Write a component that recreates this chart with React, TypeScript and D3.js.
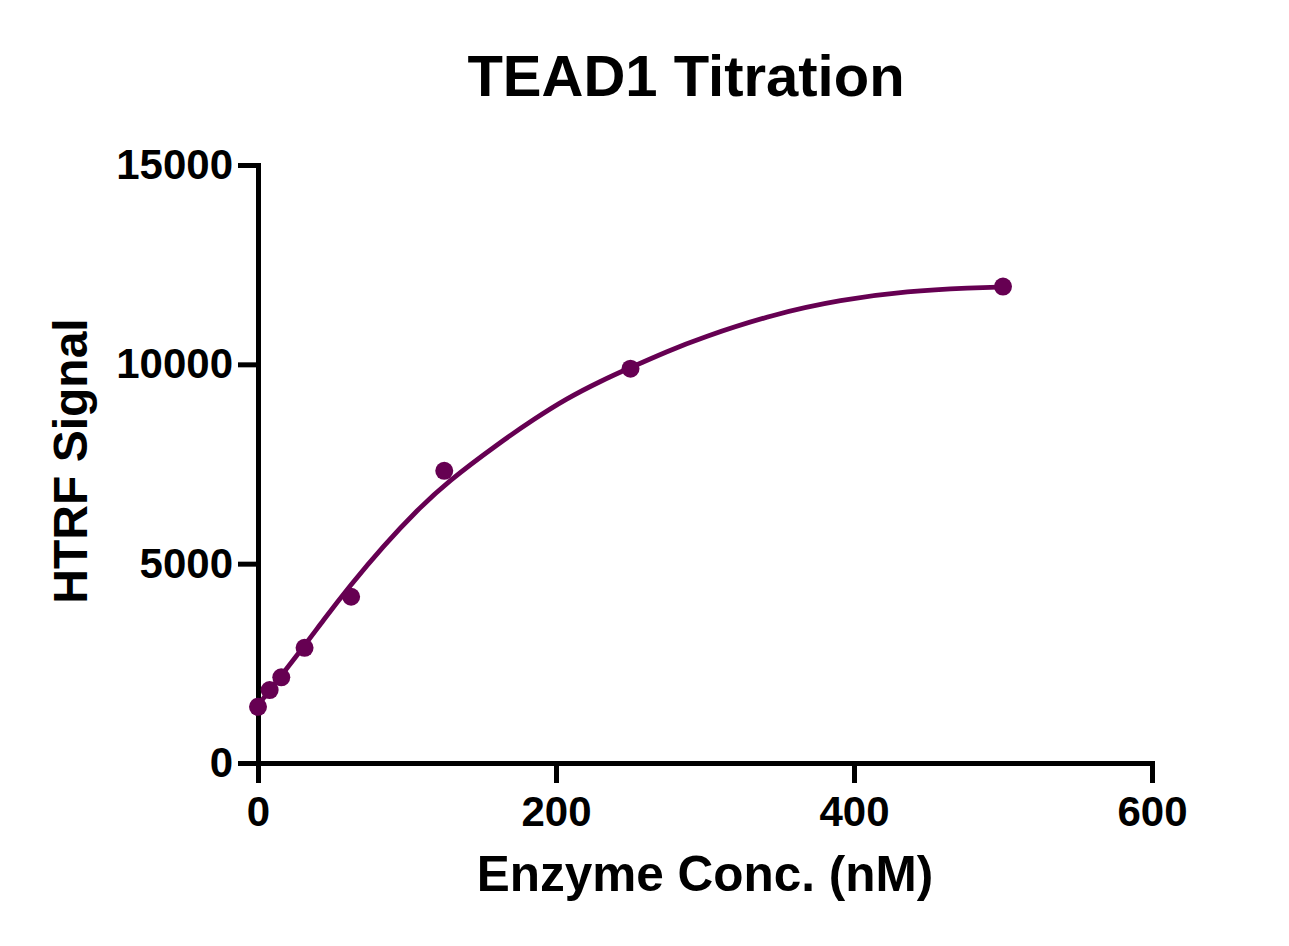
import React, { useEffect, useRef } from 'react';
import * as d3 from 'd3';

// measured points (2-fold dilution series)
const concNM = [0, 7.8125, 15.625, 31.25, 62.5, 125, 250, 500];
const signal = [1410, 1830, 2150, 2890, 4170, 7330, 9890, 11950];

// fitted curve
const fitX = [0, 31, 43, 62, 84, 107, 127, 162, 185, 207, 230, 250, 275, 297, 346, 391, 436, 480, 500];
const fitY = [1450, 2930, 3540, 4460, 5440, 6350, 7050, 8030, 8620, 9140, 9580, 9920, 10330, 10660, 11260, 11620, 11840, 11920, 11940];

const xTicks = [0, 200, 400, 600];
const yTicks = [0, 5000, 10000, 15000];

const W = 1289;
const H = 946;
const COLOR = '#660052';
const FONT = '"Liberation Sans", Arial, Helvetica, sans-serif';

const App: React.FC = () => {
  const svgRef = useRef<SVGSVGElement>(null);

  useEffect(() => {
    if (!svgRef.current) return;
    document.body.style.margin = '0';

    const svg = d3.select(svgRef.current);
    svg.selectAll('*').remove();

    const x = d3.scaleLinear().domain([0, 600]).range([258, 1152]);
    const y = d3.scaleLinear().domain([0, 15000]).range([763, 165]);

    // axes
    const xAxis = svg.append('g')
      .attr('transform', `translate(0,${y(0)})`)
      .call(d3.axisBottom(x).tickValues(xTicks).tickSize(20).tickSizeOuter(0).tickPadding(13).tickFormat(d3.format('d')));

    const yAxis = svg.append('g')
      .attr('transform', `translate(${x(0)},0)`)
      .call(d3.axisLeft(y).tickValues(yTicks).tickSize(20).tickSizeOuter(0).tickPadding(5).tickFormat(d3.format('d')));

    [xAxis, yAxis].forEach(ax => {
      ax.select('.domain').attr('stroke', '#000').attr('stroke-width', 5).attr('stroke-linecap', 'square');
      ax.selectAll('.tick line').attr('stroke', '#000').attr('stroke-width', 5);
      ax.selectAll('.tick text')
        .attr('fill', '#000')
        .attr('font-family', FONT)
        .attr('font-weight', 'bold')
        .attr('font-size', 42);
    });

    // fit curve
    const line = d3.line<number>()
      .x((_, i) => x(fitX[i]))
      .y(d => y(d))
      .curve(d3.curveBasis);

    svg.append('path')
      .datum(fitY)
      .attr('fill', 'none')
      .attr('stroke', COLOR)
      .attr('stroke-width', 4.8)
      .attr('stroke-linecap', 'round')
      .attr('d', line);

    // points
    svg.append('g')
      .selectAll('circle')
      .data(signal)
      .join('circle')
      .attr('cx', (_, i) => x(concNM[i]))
      .attr('cy', d => y(d))
      .attr('r', 9)
      .attr('fill', COLOR);

    // titles
    svg.append('text')
      .attr('x', 686)
      .attr('y', 96)
      .attr('text-anchor', 'middle')
      .attr('font-family', FONT)
      .attr('font-weight', 'bold')
      .attr('font-size', 58)
      .text('TEAD1 Titration');

    svg.append('text')
      .attr('x', (x(0) + x(600)) / 2)
      .attr('y', 891)
      .attr('text-anchor', 'middle')
      .attr('font-family', FONT)
      .attr('font-weight', 'bold')
      .attr('font-size', 49.5)
      .text('Enzyme Conc. (nM)');

    svg.append('text')
      .attr('transform', `translate(87,${(y(0) + y(15000)) / 2 - 3}) rotate(-90)`)
      .attr('text-anchor', 'middle')
      .attr('font-family', FONT)
      .attr('font-weight', 'bold')
      .attr('font-size', 48)
      .text('HTRF Signal');
  }, []);

  return (
    <svg
      ref={svgRef}
      width={W}
      height={H}
      style={{ display: 'block', background: '#fff', position: 'absolute', left: 0, top: 0 }}
    />
  );
};

export default App;
